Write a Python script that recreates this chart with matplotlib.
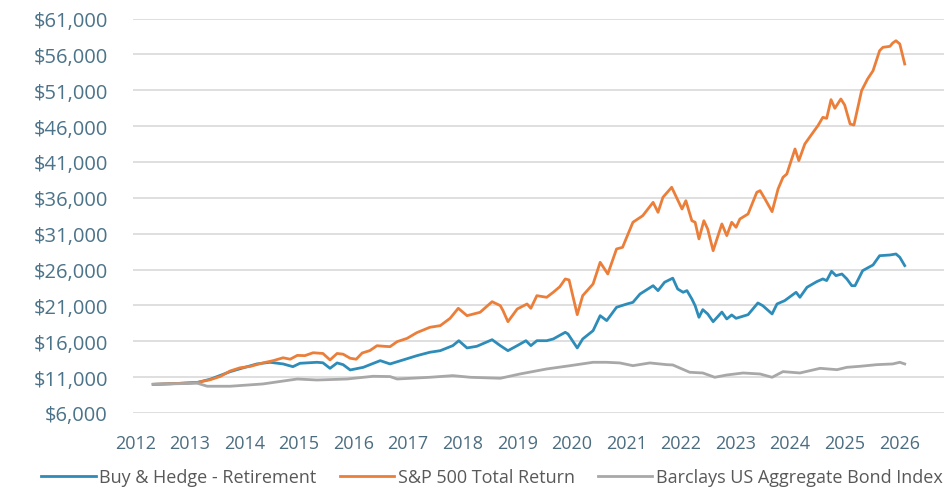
import matplotlib
matplotlib.use("Agg")
import matplotlib.pyplot as plt
from matplotlib.ticker import FuncFormatter

plt.rcParams['font.family'] = ['Open Sans', 'DejaVu Sans']

# ---- data (decimal years, dollar values) ----
sp_years = [2012.33, 2012.73, 2013.14, 2013.37, 2013.56, 2013.74, 2013.92, 2014.11, 2014.35, 2014.53,
            2014.71, 2014.84, 2014.97, 2015.11, 2015.26, 2015.44, 2015.57, 2015.70, 2015.81, 2015.94,
            2016.05, 2016.16, 2016.30, 2016.43, 2016.56, 2016.67, 2016.80, 2016.98, 2017.16, 2017.40,
            2017.59, 2017.77, 2017.92, 2018.08, 2018.32, 2018.54, 2018.69, 2018.74, 2018.83, 2019.00,
            2019.18, 2019.25, 2019.36, 2019.54, 2019.66, 2019.78, 2019.88, 2019.95, 2020.10, 2020.20,
            2020.39, 2020.52, 2020.66, 2020.82, 2020.93, 2021.12, 2021.30, 2021.49, 2021.58, 2021.67,
            2021.83, 2022.02, 2022.09, 2022.20, 2022.26, 2022.33, 2022.42, 2022.49, 2022.59, 2022.75,
            2022.84, 2022.93, 2023.01, 2023.08, 2023.23, 2023.39, 2023.45, 2023.54, 2023.67, 2023.78,
            2023.87, 2023.94, 2024.09, 2024.16, 2024.27, 2024.40, 2024.51, 2024.60, 2024.67, 2024.75,
            2024.82, 2024.93, 2025.00, 2025.10, 2025.17, 2025.31, 2025.42, 2025.52, 2025.64, 2025.70,
            2025.83, 2025.88, 2025.94, 2026.01, 2026.10]
sp_values = [10000, 10100, 10260, 10630, 11100, 11860, 12300, 12500, 13000, 13300,
             13700, 13500, 14030, 14000, 14400, 14300, 13400, 14300, 14200, 13630,
             13500, 14370, 14700, 15380, 15300, 15250, 15950, 16400, 17200, 17950,
             18180, 19200, 20600, 19570, 20040, 21520, 20970, 20270, 18730, 20500,
             21200, 20600, 22360, 22130, 22830, 23600, 24690, 24550, 19710, 22360,
             23990, 27010, 25380, 28870, 29100, 32590, 33510, 35370, 33980, 36070,
             37470, 34440, 35600, 32810, 32590, 30270, 32810, 31650, 28630, 32360,
             30730, 32590, 31890, 33050, 33750, 36770, 37000, 35840, 34070, 37240,
             38860, 39320, 42810, 41180, 43510, 44900, 46060, 47220, 47080, 49680,
             48480, 49780, 48940, 46290, 46150, 50940, 52570, 53720, 56510, 56980,
             57120, 57580, 57900, 57450, 54660]

bh_years = [2012.33, 2012.73, 2013.14, 2013.37, 2013.74, 2013.98, 2014.23, 2014.47, 2014.71, 2014.89,
            2015.02, 2015.33, 2015.44, 2015.57, 2015.70, 2015.81, 2015.94, 2016.18, 2016.49, 2016.67,
            2016.91, 2017.16, 2017.40, 2017.59, 2017.82, 2017.93, 2018.08, 2018.26, 2018.54, 2018.69,
            2018.83, 2019.00, 2019.16, 2019.25, 2019.36, 2019.54, 2019.66, 2019.88, 2019.93, 2020.10,
            2020.20, 2020.39, 2020.52, 2020.64, 2020.82, 2021.01, 2021.12, 2021.25, 2021.49, 2021.58,
            2021.70, 2021.85, 2021.94, 2022.04, 2022.11, 2022.20, 2022.26, 2022.33, 2022.40, 2022.49,
            2022.59, 2022.75, 2022.84, 2022.93, 2023.01, 2023.23, 2023.41, 2023.50, 2023.67, 2023.76,
            2023.90, 2024.11, 2024.18, 2024.31, 2024.49, 2024.60, 2024.67, 2024.76, 2024.84, 2024.95,
            2025.04, 2025.13, 2025.19, 2025.33, 2025.52, 2025.64, 2025.83, 2025.94, 2026.01, 2026.10]
bh_values = [10000, 10100, 10260, 10700, 11760, 12300, 12840, 13070, 12840, 12460,
             12930, 13070, 13000, 12230, 12980, 12740, 12000, 12370, 13300, 12840,
             13400, 13990, 14470, 14690, 15390, 16080, 15070, 15300, 16220, 15390,
             14690, 15390, 16080, 15390, 16080, 16080, 16320, 17250, 17020, 15070,
             16320, 17480, 19570, 18880, 20740, 21200, 21430, 22590, 23750, 23060,
             24230, 24800, 23290, 22830, 23060, 21900, 20960, 19340, 20410, 19810,
             18730, 20070, 19110, 19670, 19200, 19710, 21340, 20960, 19810, 21200,
             21660, 22830, 22130, 23530, 24320, 24690, 24460, 25760, 25150, 25380,
             24690, 23750, 23750, 25850, 26640, 27930, 28030, 28170, 27710, 26550]

bond_years = [2012.33, 2013.14, 2013.32, 2013.74, 2014.34, 2014.97, 2015.33, 2015.88, 2016.36, 2016.67,
              2016.80, 2017.40, 2017.82, 2018.14, 2018.69, 2019.05, 2019.54, 2019.97, 2020.39, 2020.64,
              2020.88, 2021.12, 2021.43, 2021.74, 2021.85, 2022.16, 2022.40, 2022.62, 2022.84, 2023.14,
              2023.45, 2023.67, 2023.87, 2024.18, 2024.55, 2024.86, 2025.04, 2025.28, 2025.59, 2025.88,
              2026.01, 2026.10]
bond_values = [10000, 10150, 9730, 9730, 10050, 10740, 10600, 10740, 11120, 11080,
               10740, 10980, 11210, 10980, 10840, 11440, 12140, 12600, 13070, 13070,
               12980, 12600, 12980, 12740, 12700, 11680, 11580, 10980, 11300, 11580,
               11440, 10980, 11770, 11580, 12230, 12040, 12370, 12510, 12740, 12840,
               13070, 12840]

series_labels = ["Buy & Hedge - Retirement", "S&P 500 Total Return", "Barclays US Aggregate Bond Index"]
year_ticks = list(range(2012, 2027))
y_ticks = list(range(6000, 61001, 5000))

# ---- figure ----
fig = plt.figure(figsize=(9.48, 4.89), dpi=100)
ax = fig.add_axes([133/948, 1 - 414/489, (944-133)/948, (414-19.5)/489])

c_blue = '#2e8cb9'
c_orange = '#eb7f3a'
c_gray = '#a8a8a8'

l1, = ax.plot(bh_years, bh_values, color=c_blue, lw=2.0, solid_joinstyle='round', zorder=3)
l2, = ax.plot(sp_years, sp_values, color=c_orange, lw=2.0, solid_joinstyle='round', zorder=3)
l3, = ax.plot(bond_years, bond_values, color=c_gray, lw=2.0, solid_joinstyle='round', zorder=3)

ax.set_ylim(6000, 61000)
ax.set_xlim(2011.96, 2026.82)
ax.set_yticks(y_ticks)
ax.set_xticks(year_ticks)
ax.yaxis.set_major_formatter(FuncFormatter(lambda v, p: "${:,.0f}".format(v)))
ax.grid(axis='y', color='#d9d9d9', lw=1.2)
ax.set_axisbelow(True)
for s in ax.spines.values():
    s.set_visible(False)
ax.tick_params(axis='y', length=0, pad=18, labelsize=14.5, labelcolor='#4b7389')
ax.tick_params(axis='x', length=0, pad=15, labelsize=13, labelcolor='#4b6d80')

fig.legend([l1, l2, l3], series_labels, loc='center', bbox_to_anchor=(492/948, 1 - 478/489),
           ncol=3, frameon=False, fontsize=13, labelcolor='#595959',
           handlelength=3.0, handletextpad=0.2, columnspacing=1.3)

fig.savefig("out.png", dpi=100, facecolor='white')
